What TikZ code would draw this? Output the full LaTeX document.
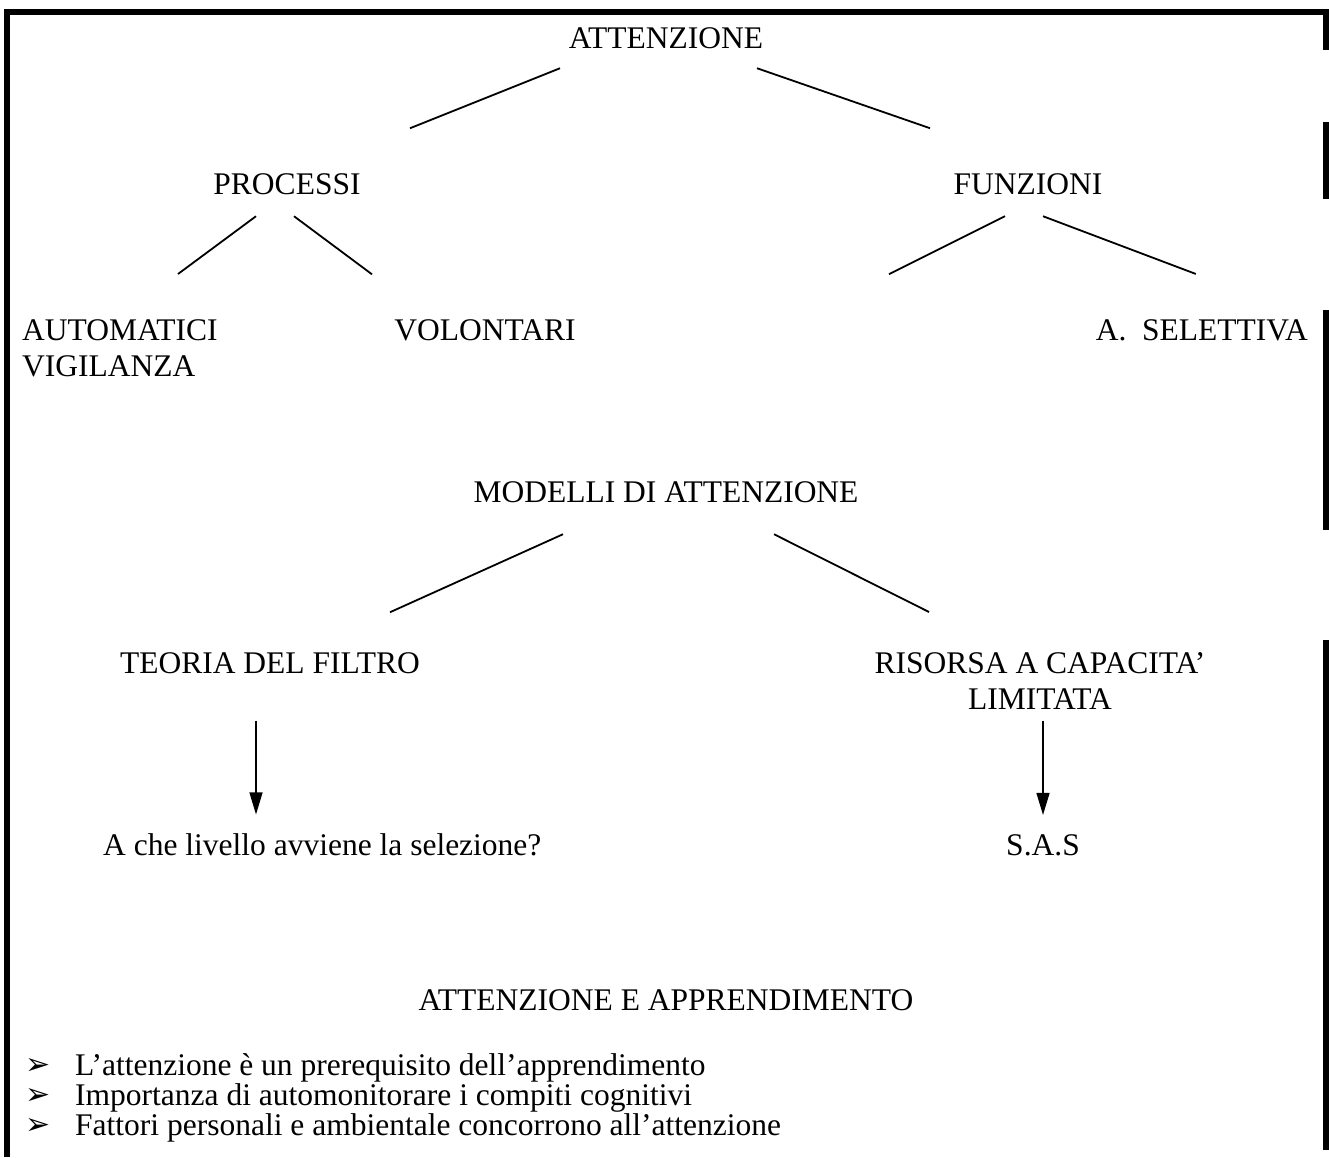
\documentclass[tikz,border=0pt]{standalone}
\usepackage{fontspec}
\setmainfont{Liberation Serif}
\newfontfamily\bulletfont{DejaVu Sans}
\usetikzlibrary{arrows.meta, positioning, calc}

\begin{document}
\begin{tikzpicture}[
    x=1pt, y=-1pt,
    txt/.style={font=\fontsize{31.5}{36}\selectfont, inner sep=0pt, anchor=base},
    bul/.style={font=\bulletfont\fontsize{30}{30}\selectfont, inner sep=0pt},
    branch/.style={line width=1.8pt},
    down/.style={line width=1.2pt, -{Triangle[length=22pt, width=13pt]}},
    frame/.style={line width=6pt}
]
    \useasboundingbox (0,0) rectangle (1329,1157);

    % frame
    \draw[frame] (7,1157) -- (7,11.5) -- (1325.5,11.5) -- (1325.5,50);
    \draw[frame] (1325.5,122) -- (1325.5,199);
    \draw[frame] (1325.5,310) -- (1325.5,530);
    \draw[frame] (1325.5,640) -- (1325.5,1150);

    % Attenzione
    \node[txt] (att) at (666,48.5) {ATTENZIONE};
    \node[txt] (proc) at (287,194.5) {PROCESSI};
    \node[txt] (funz) at (1028,194.5) {FUNZIONI};
    \node[txt, anchor=north west, align=left] (auto) at (22,319.5) {AUTOMATICI\\VIGILANZA};
    \node[txt] (vol) at (485,340.5) {VOLONTARI};
    \node[txt, anchor=base east] (sel) at (1308,340.5) {A.\ \ SELETTIVA};

    \draw[branch] ($(att)+(-106,30)$) -- ($(proc)+(123,-56)$);
    \draw[branch] ($(att)+(91,30)$) -- ($(funz)+(-98,-56)$);
    \draw[branch] ($(proc)+(-31,32)$) -- ($(auto.north west)+(156,-45.5)$);
    \draw[branch] ($(proc)+(7,32)$) -- ($(vol)+(-113,-56)$);
    \draw[branch] ($(funz)+(-23,32)$) -- ++(-116,58);
    \draw[branch] ($(funz)+(15,32)$) -- ($(sel.north)+(-6,-45.5)$);

    % Modelli
    \node[txt] (mod) at (666,502.5) {MODELLI DI ATTENZIONE};
    \node[txt] (teo) at (270,673.5) {TEORIA DEL FILTRO};
    \node[txt, anchor=north, align=center] (ris) at (1040,652) {RISORSA A CAPACITA’\\LIMITATA};
    \node[txt, anchor=base west] (livello) at (103,855.5) {A che livello avviene la selezione?};
    \node[txt] (sas) at (1043,855.5) {S.A.S};

    \draw[branch] ($(mod)+(-103,42)$) -- ($(teo)+(120,-51)$);
    \draw[branch] ($(mod)+(108,42)$) -- ($(ris.north)+(-111,-40)$);

    \coordinate (filtro) at ([shift={(-14,46.5)}]teo.south);
    \draw[down, shorten >=19pt] (filtro) -- (filtro |- livello.north);
    \draw[down, shorten <=11.5pt, shorten >=19.5pt] (ris.south -| sas.north) -- (sas.north);

    % Apprendimento
    \node[txt] (app) at (666,1010.5) {ATTENZIONE E APPRENDIMENTO};
    \node[bul] (b1) at (38,1066) {➢};
    \node[bul] (b2) at (38,1096) {➢};
    \node[bul] (b3) at (38,1126) {➢};
    \node[txt, anchor=base west] (p1) at (75,1075.5) {L’attenzione è un prerequisito dell’apprendimento};
    \node[txt, anchor=base west] (p2) at (75,1105.5) {Importanza di automonitorare i compiti cognitivi};
    \node[txt, anchor=base west] (p3) at (75,1135.5) {Fattori personali e ambientale concorrono all’attenzione};
\end{tikzpicture}
\end{document}
